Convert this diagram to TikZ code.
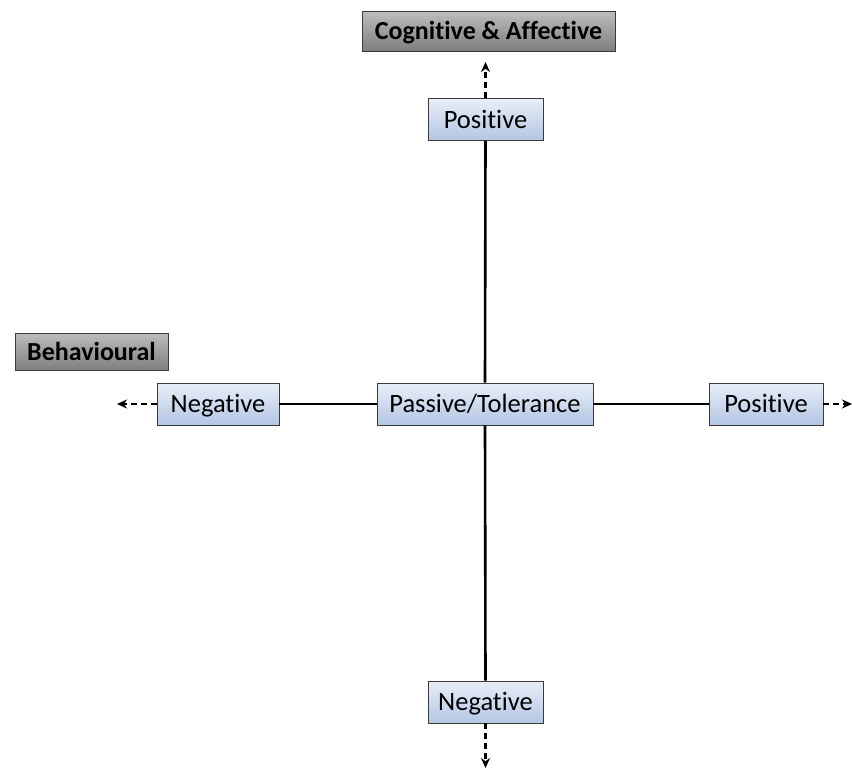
\documentclass[tikz,border=0pt]{standalone}
\usepackage{fontspec}
\setmainfont{Carlito}[Ligatures=NoCommon]
\usetikzlibrary{arrows.meta}
\definecolor{bluetop}{HTML}{E8EEF8}
\definecolor{bluebot}{HTML}{B3C6E3}
\definecolor{graytop}{HTML}{BDBDBD}
\definecolor{graybot}{HTML}{7E7E7E}
\definecolor{edge}{HTML}{3A3A3A}
\tikzset{
  valbox/.style={draw=edge, line width=0.8pt, top color=bluetop, bottom color=bluebot,
    minimum height=42pt, inner sep=0pt, text height=20pt, text depth=3pt,
    font=\fontsize{26.5}{30}\selectfont},
  headbox/.style={draw=edge, line width=0.8pt, top color=graytop, bottom color=graybot,
    minimum height=40pt, inner sep=0pt, text height=20pt, text depth=3pt,
    font=\fontsize{26}{30}\selectfont\bfseries},
  axis/.style={line width=2.6pt, black},
  ext/.style={line width=2.6pt, black, dash pattern=on 6pt off 4pt, -{Stealth[length=10pt,width=9pt]}}
}
\begin{document}
\begin{tikzpicture}[x=1pt,y=-1pt]
\useasboundingbox (0,0) rectangle (852,769);
\node[headbox, minimum width=253pt] (cog) at (488.5,31) {Cognitive \& Affective};
\node[headbox, minimum width=153pt, minimum height=37pt] (beh) at (91.5,351.5) {Behavioural};
\node[valbox, minimum width=115pt] (ptop) at (485.5,119.5) {Positive};
\node[valbox, minimum width=122pt] (nleft) at (218,404) {Negative};
\node[valbox, minimum width=216pt] (pass) at (485,404) {Passive/Tolerance};
\node[valbox, minimum width=114pt] (pright) at (766,404) {Positive};
\node[valbox, minimum width=115pt] (nbot) at (485.5,702) {Negative};
\coordinate (tup) at (485.5,62);
\coordinate (tleft) at (117,404);
\coordinate (tright) at (852,404);
\coordinate (tdown) at (485.5,768);
\draw[axis] (ptop.south) -- (pass.north);
\draw[axis] (pass.south) -- (nbot.north);
\draw[axis] (nleft.east) -- (pass.west);
\draw[axis] (pass.east) -- (pright.west);
\draw[ext] (ptop.north) -- (tup);
\draw[ext] (nleft.west) -- (tleft);
\draw[ext] (pright.east) -- (tright);
\draw[ext] (nbot.south) -- (tdown);
\end{tikzpicture}
\end{document}
